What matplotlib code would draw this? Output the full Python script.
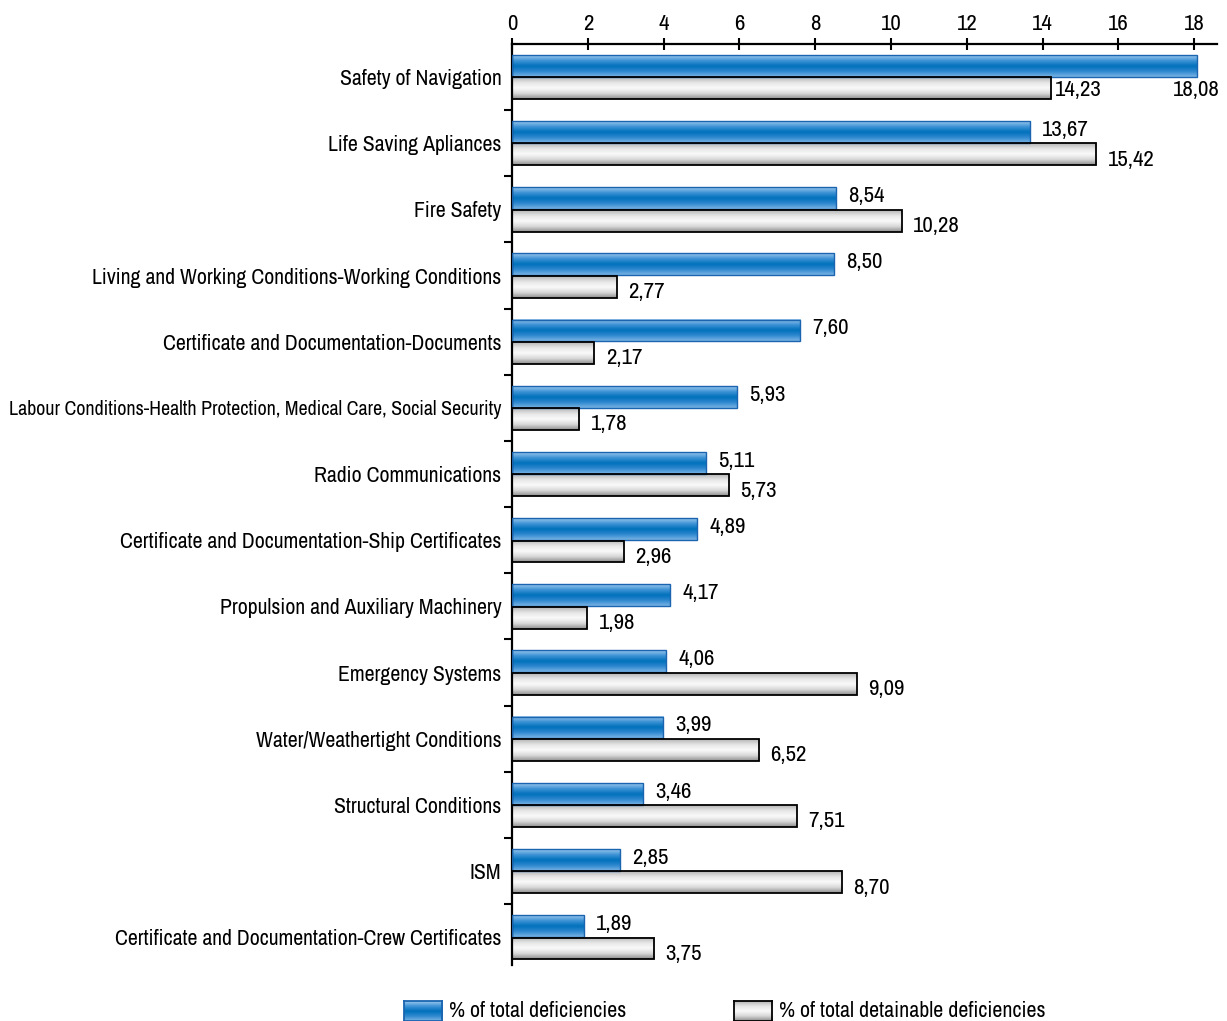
import numpy as np
import matplotlib
matplotlib.use("Agg")
import matplotlib.pyplot as plt
from matplotlib.colors import LinearSegmentedColormap

plt.rcParams['font.family'] = ['Archivo Narrow', 'Roboto Condensed', 'DejaVu Sans']

categories = [
    "Safety of Navigation",
    "Life Saving Apliances",
    "Fire Safety",
    "Living and Working Conditions-Working Conditions",
    "Certificate and Documentation-Documents",
    "Labour Conditions-Health Protection, Medical Care, Social Security",
    "Radio Communications",
    "Certificate and Documentation-Ship Certificates",
    "Propulsion and Auxiliary Machinery",
    "Emergency Systems",
    "Water/Weathertight Conditions",
    "Structural Conditions",
    "ISM",
    "Certificate and Documentation-Crew Certificates",
]
total_def = [18.08, 13.67, 8.54, 8.50, 7.60, 5.93, 5.11, 4.89, 4.17, 4.06, 3.99, 3.46, 2.85, 1.89]
detainable_def = [14.23, 15.42, 10.28, 2.77, 2.17, 1.78, 5.73, 2.96, 1.98, 9.09, 6.52, 7.51, 8.70, 3.75]
legend_labels = ["% of total deficiencies", "% of total detainable deficiencies"]

blue_cmap = LinearSegmentedColormap.from_list(
    "blue", ["#9cc8ec", "#3e93d6", "#0070bb", "#2f88cf", "#7ab4e4"])
grey_cmap = LinearSegmentedColormap.from_list(
    "grey", ["#b4b4b4", "#e6e6e6", "#fafafa", "#d8d8d8", "#8e8e8e"])
grad = np.linspace(0, 1, 64).reshape(-1, 1)


def fmt(v):
    return f"{v:.2f}".replace(".", ",")


def grad_bar(ax, y, w, h, cmap, edge, lw):
    ax.imshow(grad, aspect="auto", cmap=cmap, extent=[0, w, y + h / 2, y - h / 2],
              interpolation="bicubic", zorder=2)
    ax.barh(y, w, height=h, left=0, color="none", edgecolor=edge, lw=lw, zorder=3)


fig = plt.figure(figsize=(12.27, 10.21), dpi=100)
ax = fig.add_axes([0.4173, 0.0548, 0.5745, 0.9022])

fs_cat = 15.7
fs_num = 16.5
fs_leg = 15.8
h = 0.33
off = 0.17
for i, (a, b) in enumerate(zip(total_def, detainable_def)):
    grad_bar(ax, i - off, a, h, blue_cmap, "#1a64b0", 1.0)
    grad_bar(ax, i + off, b, h, grey_cmap, "black", 1.3)
    if i == 0:
        ax.text(a + 0.6, i + off + 0.03, fmt(a), ha="right", va="center", fontsize=fs_num)
        ax.text(b + 0.1, i + off + 0.03, fmt(b), ha="left", va="center", fontsize=fs_num)
    else:
        ax.text(a + 0.32, i - off - 0.03, fmt(a), ha="left", va="center", fontsize=fs_num)
        ax.text(b + 0.3, i + off + 0.08, fmt(b), ha="left", va="center", fontsize=fs_num)

ax.set_xlim(0, 18.6)
ax.set_ylim(13.42, -0.5)
ax.set_xticks(np.arange(0, 19, 2))
ax.xaxis.tick_top()
ax.tick_params(axis="x", direction="inout", length=8, width=1.5, labelsize=fs_num, pad=3)
ax.set_yticks(np.arange(0.5, 13, 1))
ax.set_yticklabels([])
ax.tick_params(axis="y", direction="out", length=6, width=1.5)
ax.tick_params(axis="y", which="minor", length=0, labelsize=fs_cat, pad=7.5)
ax.set_yticks(np.arange(len(categories)), minor=True)
ax.set_yticklabels(categories, minor=True)
ax.get_yticklabels(minor=True)[5].set_fontsize(14.4)
for s in ["right", "bottom"]:
    ax.spines[s].set_visible(False)
for s in ["top", "left"]:
    ax.spines[s].set_linewidth(1.6)

# legend with gradient swatches
for x0, cmap, edge, lab in [(0.329, blue_cmap, "#1a64b0", legend_labels[0]),
                            (0.598, grey_cmap, "black", legend_labels[1])]:
    lax = fig.add_axes([x0, 0.0, 0.031, 0.0195])
    lax.imshow(grad, aspect="auto", cmap=cmap, interpolation="bicubic")
    lax.set_xticks([])
    lax.set_yticks([])
    for s in lax.spines.values():
        s.set_edgecolor(edge)
        s.set_linewidth(1.3)
    fig.text(x0 + 0.037, 0.0, lab, ha="left", va="bottom", fontsize=fs_leg)

fig.savefig("out.png", dpi=100)
